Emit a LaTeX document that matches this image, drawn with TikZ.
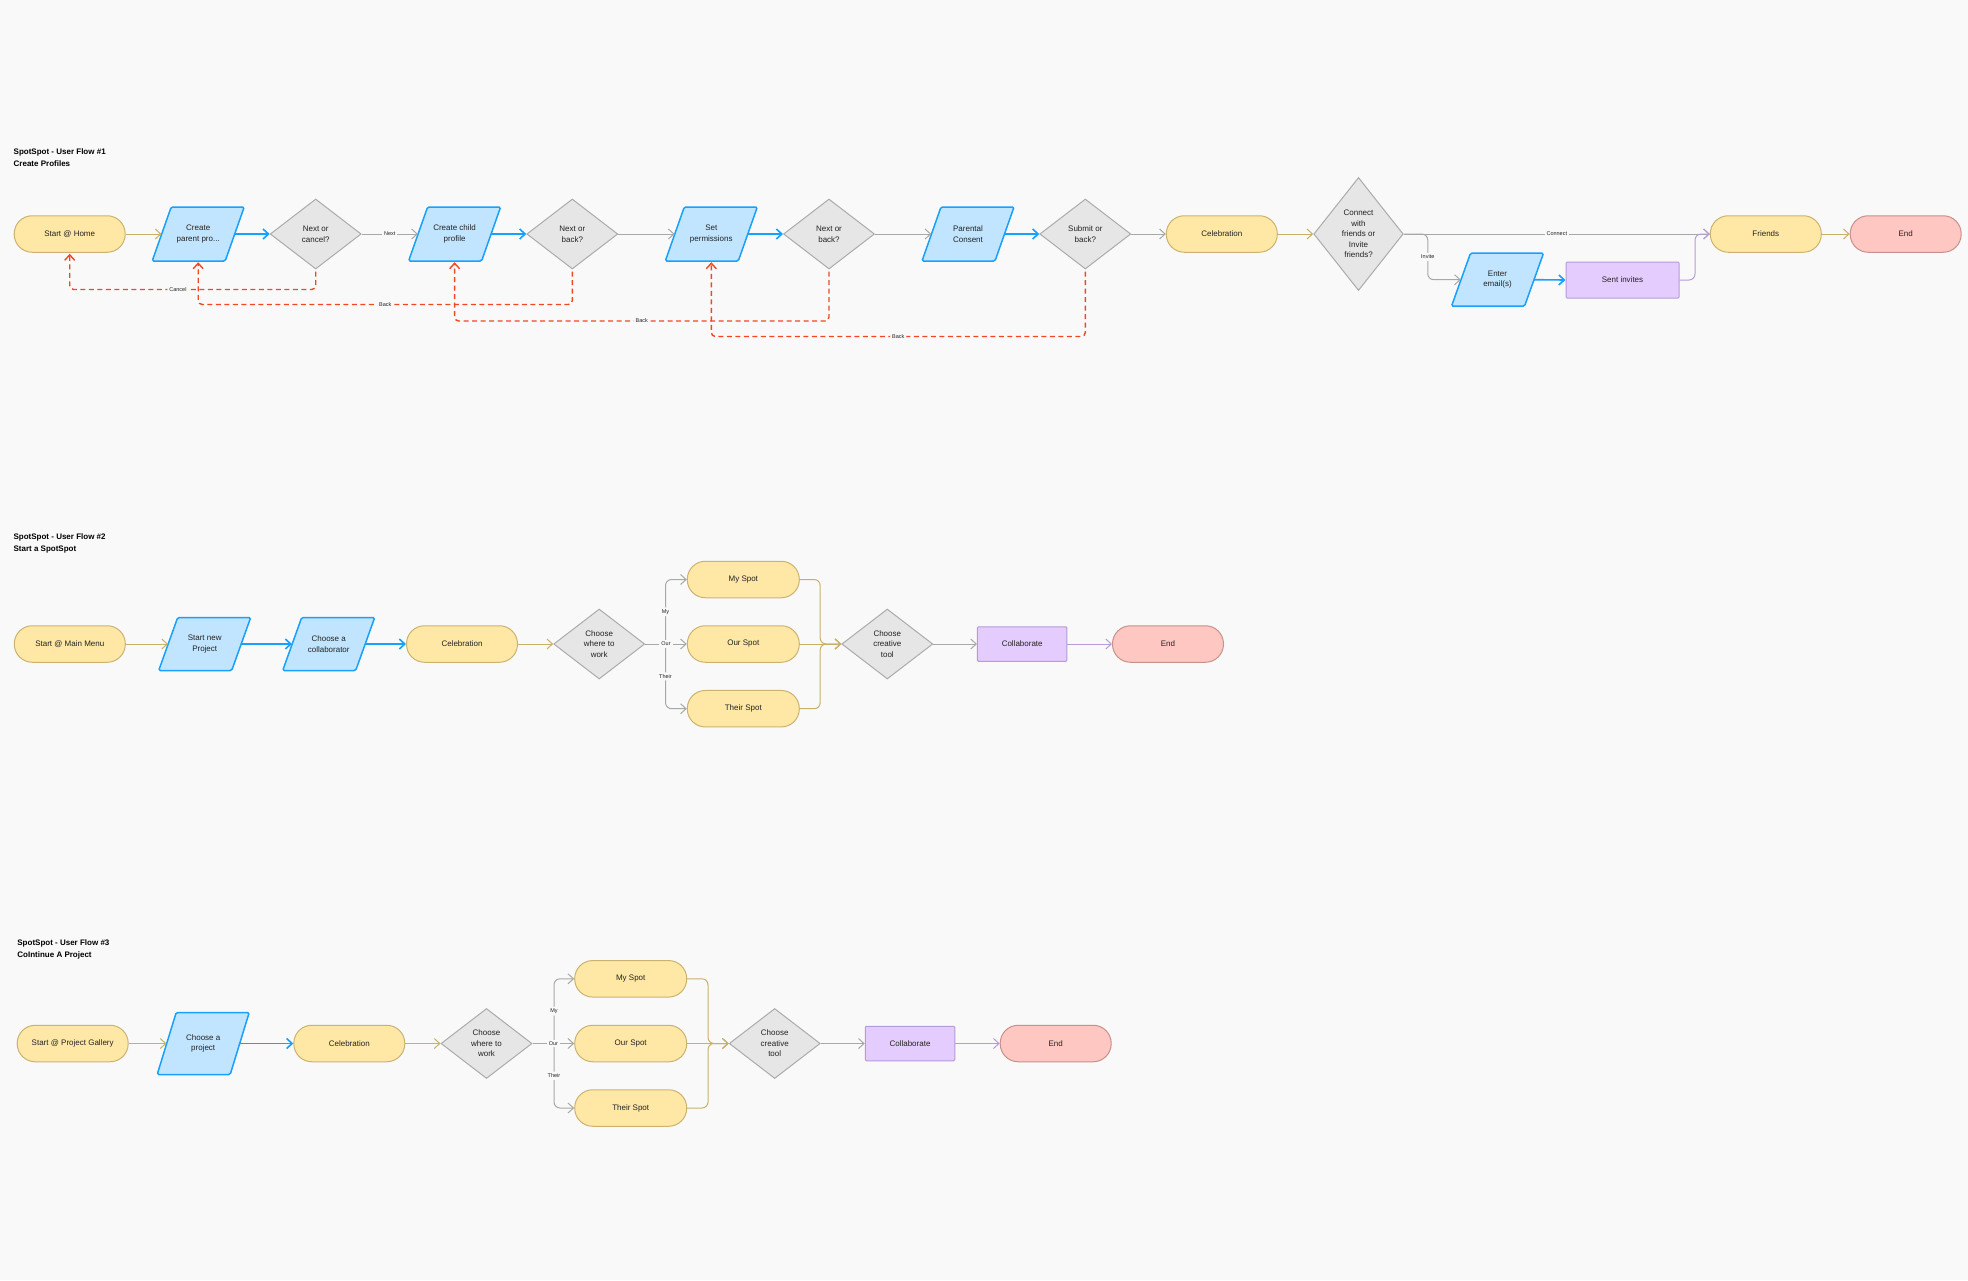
\documentclass[tikz,border=0pt]{standalone}
\usepackage{fontspec}
\setmainfont{Liberation Sans}
\usetikzlibrary{arrows.meta,shapes.geometric,calc}

\definecolor{bgc}{HTML}{F9F9F9}
\definecolor{ylF}{HTML}{FFE8A6}
\definecolor{ylS}{HTML}{CBB36F}
\definecolor{tanA}{HTML}{C9B06A}
\definecolor{blF}{HTML}{C2E5FF}
\definecolor{blS}{HTML}{18A0FB}
\definecolor{gyF}{HTML}{E6E6E6}
\definecolor{gyS}{HTML}{ABABAB}
\definecolor{gyA}{HTML}{A8A8A8}
\definecolor{puF}{HTML}{E4CCFF}
\definecolor{puS}{HTML}{B69BD9}
\definecolor{rdF}{HTML}{FFC7C2}
\definecolor{rdS}{HTML}{C7918B}
\definecolor{redD}{HTML}{F24822}
\definecolor{txt}{HTML}{222222}

\newcommand{\nodefnt}{\fontsize{8}{10.6}\selectfont}
\newcommand{\paraBox}[5]{%
  \filldraw[parashape] ($(#2,#3)+(-46,#4)$) -- ($(#2,#3)+(-27,-#4)$) -- ($(#2,#3)+(46,-#4)$) -- ($(#2,#3)+(27,#4)$) -- cycle;
  \node[parabody, minimum height=2*#4] (#1) at (#2,#3) {#5};}

\begin{document}
\begin{tikzpicture}[x=1pt,y=-1pt,
  pill/.style={draw=ylS, fill=ylF, line width=1pt, rounded corners=18pt, minimum width=111pt, minimum height=36.5pt, font=\nodefnt, text=txt, align=center, inner sep=0pt},
  endpill/.style={pill, draw=rdS, fill=rdF},
  diam/.style={diamond, draw=gyS, fill=gyF, line width=1pt, inner sep=0pt, align=center, font=\nodefnt, text=txt, minimum width=91pt, minimum height=70pt},
  parabody/.style={inner sep=0pt, minimum width=73pt, align=center, font=\nodefnt, text=txt},
  parashape/.style={draw=blS, fill=blF, line width=1.5pt, rounded corners=1.5pt},
  rectbox/.style={draw=puS, fill=puF, line width=1pt, minimum height=35pt, rounded corners=1pt, font=\nodefnt, text=txt, inner sep=0pt},
  titlenode/.style={anchor=west, align=left, inner sep=0pt, font=\fontsize{8}{12}\selectfont\bfseries, text=black},
  flow/.style={line width=1pt, line join=round, -{Straight Barb[length=5.5pt,width=10pt]}},
  tanflow/.style={flow, draw=tanA},
  blueflow/.style={flow, draw=blS, line width=1.6pt},
  greyflow/.style={flow, draw=gyA},
  purpflow/.style={flow, draw=puS},
  backflow/.style={flow, draw=redD, line width=1.4pt, dash pattern=on 5pt off 3.5pt, rounded corners=4pt, shorten <=2pt, shorten >=1pt},
  elabel/.style={fill=bgc, inner sep=2pt, font=\fontsize{5.5}{6}\selectfont, text=txt}
]
\fill[bgc] (0,0) rectangle (1968,1280);
\useasboundingbox (0,0) rectangle (1968,1280);

% ---------------- Flow 1 ----------------
\node[titlenode] (ttl1) at (13.5,157.3) {SpotSpot - User Flow \#1\\Create Profiles};

\node[pill] (s1) at (69.7,234) {Start @ Home};
\paraBox{p1}{198.2}{234}{27}{Create\\parent pro...}
\node[diam] (d1) at (315.7,234) {Next or\\cancel?};
\paraBox{p2}{454.6}{234}{27}{Create child\\profile}
\node[diam] (d2) at (572.3,234) {Next or\\back?};
\paraBox{p3}{711.3}{234}{27}{Set\\permissions}
\node[diam] (d3) at (829,234) {Next or\\back?};
\paraBox{p4}{968}{234}{27}{Parental\\Consent}
\node[diam] (d4) at (1085.3,234) {Submit or\\back?};
\node[pill] (c1) at (1221.8,234) {Celebration};
\node[diam, minimum width=89.5pt, minimum height=113pt] (d5) at (1358.5,234) {Connect\\with\\friends or\\Invite\\friends?};
\paraBox{p5}{1497.5}{279.7}{26.5}{Enter\\email(s)}
\node[rectbox, minimum width=113pt, minimum height=36pt] (r1) at (1622.5,280) {Sent invites};
\node[pill] (f1) at (1765.8,234) {Friends};
\node[endpill] (e1) at (1905.7,234) {End};

\draw[tanflow] (s1.east) -- (p1.west);
\draw[blueflow] (p1.east) -- (d1.west);
\draw[greyflow] (d1.east) -- node[elabel]{Next} (p2.west);
\draw[blueflow] (p2.east) -- (d2.west);
\draw[greyflow] (d2.east) -- (p3.west);
\draw[blueflow] (p3.east) -- (d3.west);
\draw[greyflow] (d3.east) -- (p4.west);
\draw[blueflow] (p4.east) -- (d4.west);
\draw[greyflow] (d4.east) -- (c1.west);
\draw[tanflow] (c1.east) -- (d5.west);
\draw[greyflow] (d5.east) -- node[elabel]{Connect} (f1.west);
\draw[greyflow, rounded corners=6pt] (d5.east) -- ++(24,0) |- node[elabel,pos=0.25]{Invite} (p5.west);
\draw[blueflow] (p5.east) -- (r1.west);
\draw[purpflow, rounded corners=6pt] (r1.east) -- ++(15.5,0) |- (f1.west);
\draw[tanflow] (f1.east) -- (e1.west);

\draw[backflow] (d1.south) -- ++(0,20) -| node[elabel,pos=0.28]{Cancel} (s1.south);
\draw[backflow] (d2.south) -- ++(0,35) -| node[elabel,pos=0.25]{Back} (p1.south);
\draw[backflow] (d3.south) -- ++(0,51.5) -| node[elabel,pos=0.25]{Back} (p2.south);
\draw[backflow] (d4.south) -- ++(0,67) -| node[elabel,pos=0.25]{Back} (p3.south);

% ---------------- Flow 2 ----------------
\node[titlenode] (ttl2) at (13.4,543.3) {SpotSpot - User Flow \#2\\Start a SpotSpot};

\node[pill] (s2) at (69.8,644) {Start @ Main Menu};
\paraBox{p6}{204.7}{644}{26.5}{Start new\\Project}
\paraBox{p7}{328.7}{644}{26.5}{Choose a\\collaborator}
\node[pill] (c2) at (462,644) {Celebration};
\node[diam] (d6) at (599.2,644) {Choose\\where to\\work};
\node[pill, minimum width=112pt] (m2) at (743.3,579.5) {My Spot};
\node[pill, minimum width=112pt] (o2) at (743.3,644) {Our Spot};
\node[pill, minimum width=112pt] (t2) at (743.3,708.7) {Their Spot};
\node[diam] (d7) at (887.3,644) {Choose\\creative\\tool};
\node[rectbox, minimum width=89.5pt, minimum height=34.5pt] (r2) at (1022.2,644) {Collaborate};
\node[endpill] (e2) at (1168,644) {End};
\coordinate (j2) at (665.5,644);
\coordinate (k2) at (820.2,644);

\draw[tanflow] (s2.east) -- (p6.west);
\draw[blueflow] (p6.east) -- (p7.west);
\draw[blueflow] (p7.east) -- (c2.west);
\draw[tanflow] (c2.east) -- (d6.west);
\draw[greyflow, rounded corners=6pt] (j2) |- node[elabel,pos=0.25]{My} (m2.west);
\draw[greyflow, rounded corners=6pt] (j2) |- node[elabel,pos=0.25]{Their} (t2.west);
\draw[greyflow] (d6.east) -- node[elabel]{Our} (o2.west);
\draw[tanflow, rounded corners=6pt] (m2.east) -| (k2) -- (d7.west);
\draw[tanflow, rounded corners=6pt] (t2.east) -| (k2) -- (d7.west);
\draw[tanflow] (o2.east) -- (d7.west);
\draw[greyflow] (d7.east) -- (r2.west);
\draw[purpflow] (r2.east) -- (e2.west);

% ---------------- Flow 3 ----------------
\node[titlenode] (ttl3) at (17.2,949) {SpotSpot - User Flow \#3\\CoIntinue A Project};

\node[pill] (s3) at (72.7,1043.5) {Start @ Project Gallery};
\paraBox{p8}{203.2}{1043.5}{31}{Choose a\\project}
\node[pill] (c3) at (349.3,1043.5) {Celebration};
\node[diam] (d8) at (486.5,1043.5) {Choose\\where to\\work};
\node[pill, minimum width=112pt] (m3) at (630.7,978.8) {My Spot};
\node[pill, minimum width=112pt] (o3) at (630.7,1043.5) {Our Spot};
\node[pill, minimum width=112pt] (t3) at (630.7,1108) {Their Spot};
\node[diam] (d9) at (774.7,1043.5) {Choose\\creative\\tool};
\node[rectbox, minimum width=89.5pt, minimum height=34.5pt] (r3) at (910,1043.5) {Collaborate};
\node[endpill] (e3) at (1055.7,1043.5) {End};
\coordinate (j3) at (554,1043.5);
\coordinate (k3) at (708,1043.5);

\draw[tanflow] (s3.east) -- (p8.west);
\draw[blueflow] (p8.east) -- (c3.west);
\draw[tanflow] (c3.east) -- (d8.west);
\draw[greyflow, rounded corners=6pt] (j3) |- node[elabel,pos=0.25]{My} (m3.west);
\draw[greyflow, rounded corners=6pt] (j3) |- node[elabel,pos=0.25]{Their} (t3.west);
\draw[greyflow] (d8.east) -- node[elabel]{Our} (o3.west);
\draw[tanflow, rounded corners=6pt] (m3.east) -| (k3) -- (d9.west);
\draw[tanflow, rounded corners=6pt] (t3.east) -| (k3) -- (d9.west);
\draw[tanflow] (o3.east) -- (d9.west);
\draw[greyflow] (d9.east) -- (r3.west);
\draw[purpflow] (r3.east) -- (e3.west);
\end{tikzpicture}
\end{document}
